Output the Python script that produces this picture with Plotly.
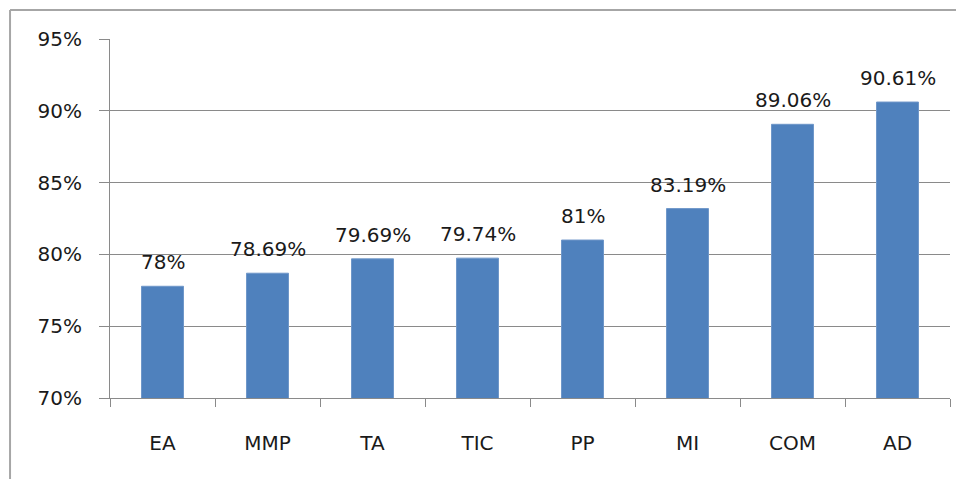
import plotly.graph_objects as go

categories = ["EA", "MMP", "TA", "TIC", "PP", "MI", "COM", "AD"]
values = [77.78, 78.69, 79.69, 79.74, 81.0, 83.19, 89.06, 90.61]
value_labels = ["78%", "78.69%", "79.69%", "79.74%", "81%", "83.19%", "89.06%", "90.61%"]
y_ticks = [70, 75, 80, 85, 90, 95]
y_tick_labels = ["70%", "75%", "80%", "85%", "90%", "95%"]

FONT = "DejaVu Sans"
GRAY = "#8a8a8a"
TXT = "#1a1a1a"
FS = 20

fig = go.Figure()
fig.add_trace(go.Bar(
    x=categories, y=values,
    marker=dict(color="#4F81BD", line=dict(color="#6f97c9", width=1)),
    width=0.4,
    hoverinfo="skip",
))

for c, v, t in zip(categories, values, value_labels):
    fig.add_annotation(x=c, y=v, text=t, showarrow=False, yanchor="bottom",
                       yshift=10, font=dict(family=FONT, size=FS, color=TXT))

# outer chart frame (partially cropped in the reference)
fig.add_shape(type="line", xref="paper", yref="paper", x0=-0.119, x1=1.1, y0=1.0808, y1=1.0808,
              line=dict(color="#a6a6a6", width=2))
fig.add_shape(type="line", xref="paper", yref="paper", x0=-0.119, x1=-0.119, y0=1.0808, y1=-0.4,
              line=dict(color="#a6a6a6", width=2))

fig.update_layout(
    width=956, height=471,
    margin=dict(l=102, r=14, t=31, b=81),
    paper_bgcolor="white", plot_bgcolor="white",
    showlegend=False,
    font=dict(family=FONT, size=FS, color=TXT),
)
fig.update_xaxes(
    type="category",
    showline=True, linecolor=GRAY, linewidth=1,
    ticks="outside", tickson="boundaries", ticklen=8, tickcolor=GRAY, tickwidth=1,
    showgrid=False,
    tickfont=dict(family=FONT, size=FS, color=TXT),
    ticklabelstandoff=27,
)
fig.update_yaxes(
    range=[70, 95],
    tickvals=y_ticks, ticktext=y_tick_labels,
    showline=True, linecolor=GRAY, linewidth=1,
    ticks="outside", ticklen=10, tickcolor=GRAY, tickwidth=1,
    showgrid=True, gridcolor=GRAY, gridwidth=1,
    zeroline=False,
    tickfont=dict(family=FONT, size=FS, color=TXT),
    ticklabelstandoff=13,
)

fig.write_html("out.html")
